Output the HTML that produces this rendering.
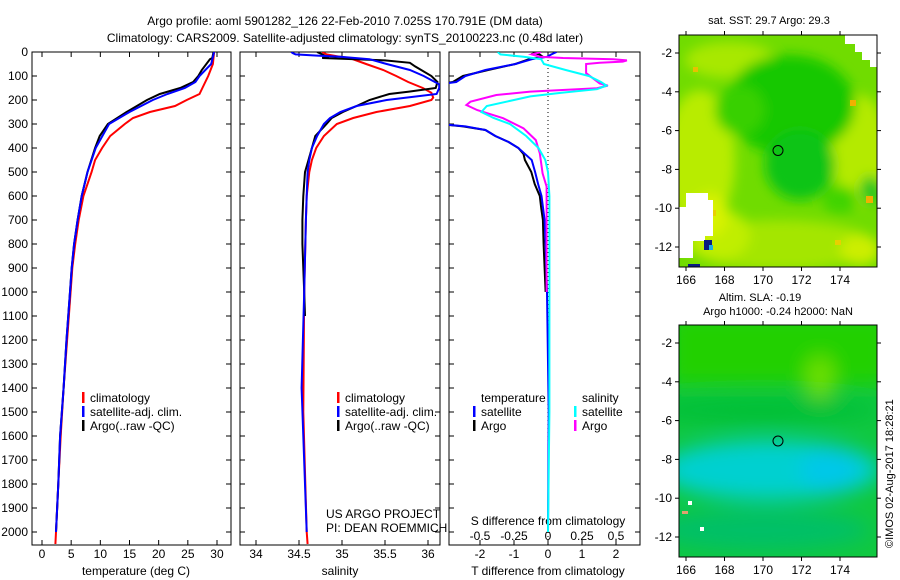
<!DOCTYPE html>
<html><head><meta charset="utf-8">
<style>
html,body{margin:0;padding:0;background:#fff;}
svg{display:block;font-family:"Liberation Sans",sans-serif;font-size:12px;}
</style></head>
<body>
<svg id="fig" width="900" height="580" viewBox="0 0 900 580">
<defs>
<filter id="blur6" x="-50%" y="-50%" width="200%" height="200%"><feGaussianBlur stdDeviation="6"/></filter>
<filter id="blur10" x="-50%" y="-50%" width="200%" height="200%"><feGaussianBlur stdDeviation="10"/></filter>
<clipPath id="cp1"><rect x="32" y="52" width="199" height="493"/></clipPath>
<clipPath id="cp2"><rect x="240" y="52" width="200" height="493"/></clipPath>
<clipPath id="cp3"><rect x="449" y="52" width="191" height="493"/></clipPath>
<clipPath id="cm1"><rect x="679" y="35" width="198" height="232"/></clipPath>
<clipPath id="cm2"><rect x="679" y="325" width="198" height="232"/></clipPath>
</defs>
<text x="345" y="25" text-anchor="middle">Argo profile: aoml 5901282_126 22-Feb-2010 7.025S 170.791E (DM data)</text>
<text x="345" y="42" text-anchor="middle">Climatology: CARS2009. Satellite-adjusted climatology: synTS_20100223.nc (0.48d later)</text>

<!-- Map 1 : SST -->
<g clip-path="url(#cm1)">
<rect x="679" y="35" width="198" height="232" fill="#70dc00"/>
<g filter="url(#blur6)">
<ellipse cx="700" cy="160" rx="35" ry="70" fill="#b8ec00"/>
<ellipse cx="730" cy="60" rx="45" ry="18" fill="#a8e800"/>
<ellipse cx="860" cy="150" rx="28" ry="55" fill="#b4ea00"/>
<ellipse cx="780" cy="245" rx="95" ry="25" fill="#a4e600"/>
<ellipse cx="720" cy="235" rx="30" ry="25" fill="#c0ee00"/>
<ellipse cx="790" cy="105" rx="65" ry="50" fill="#18c800"/>
<ellipse cx="800" cy="165" rx="35" ry="35" fill="#10c418"/>
<ellipse cx="740" cy="110" rx="25" ry="25" fill="#38d000"/>
<ellipse cx="710" cy="215" rx="18" ry="22" fill="#d8f200"/>
<ellipse cx="860" cy="250" rx="20" ry="15" fill="#ccee00"/>
<ellipse cx="870" cy="190" rx="10" ry="14" fill="#18c420"/>
<ellipse cx="840" cy="200" rx="18" ry="14" fill="#40d400"/>
</g>
<rect x="850" y="100" width="6" height="6" fill="#f0b000"/>
<rect x="866" y="196" width="7" height="7" fill="#f0b000"/>
<rect x="693" y="67" width="5" height="5" fill="#e8c000"/>
<rect x="710" y="210" width="6" height="6" fill="#e8d000"/>
<rect x="835" y="240" width="6" height="5" fill="#e8d000"/>
<polygon points="845,35 877,35 877,67 870,67 870,60 862,60 862,52 855,52 855,44 845,44" fill="#fff"/>
<polygon points="686,193 708,193 708,200 713,200 713,236 705,236 705,241 693,241 693,258 679,258 679,207 686,207" fill="#fff"/>
<rect x="704" y="240" width="8" height="10" fill="#0a1a80"/>
<rect x="709" y="245" width="4" height="5" fill="#20b0e0"/>
<rect x="688" y="264" width="12" height="3" fill="#0a1a80"/>
<circle cx="778" cy="150.5" r="5" fill="none" stroke="#000" stroke-width="1"/>
</g>
<rect x="679" y="35" width="198" height="232" fill="none" stroke="#000"/>
<text x="769" y="24" text-anchor="middle" font-size="11">sat. SST: 29.7 Argo: 29.3</text>

<!-- Map 2 : SLA -->
<g clip-path="url(#cm2)">
<rect x="679" y="325" width="198" height="232" fill="#10c840"/>
<g filter="url(#blur10)">
<rect x="670" y="315" width="220" height="70" fill="#20d000"/>
<ellipse cx="820" cy="378" rx="14" ry="22" fill="#70e000"/>
<ellipse cx="760" cy="410" rx="120" ry="14" fill="#00c038"/>
<ellipse cx="770" cy="470" rx="110" ry="30" fill="#00d0d0"/>
<ellipse cx="830" cy="470" rx="30" ry="24" fill="#00c8e8"/>
<ellipse cx="760" cy="530" rx="110" ry="20" fill="#00c068"/>
</g>
<circle cx="778" cy="441" r="5" fill="none" stroke="#000" stroke-width="1"/>
<rect x="688" y="501" width="4" height="4" fill="#fff"/>
<rect x="682" y="511" width="6" height="3" fill="#e0a070"/>
<rect x="700" y="527" width="4" height="4" fill="#fff"/>
</g>
<rect x="679" y="325" width="198" height="232" fill="none" stroke="#000"/>
<text x="760" y="301" text-anchor="middle" font-size="11">Altim. SLA: -0.19</text>
<text x="778" y="315" text-anchor="middle" font-size="11">Argo h1000: -0.24 h2000: NaN</text>
<text transform="translate(893,548) rotate(-90)" font-size="11">©IMOS 02-Aug-2017 18:28:21</text>

<g id="plots"></g>
</svg>
<script>
// ---------- data ----------
const depthTicks = [0,100,200,300,400,500,600,700,800,900,1000,1100,1200,1300,1400,1500,1600,1700,1800,1900,2000];
const tempTicks = [0,5,10,15,20,25,30];
const salTicks = [34,34.5,35,35.5,36];
const tdiffTicks = [-2,-1,0,1,2];
const sdiffTicks = [-0.5,-0.25,0,0.25,0.5];
const sdiffTickLabels = ["-0.5","-0.25","0","0.25","0.5"];
const lonTicks = [166,168,170,172,174];
const latTicks = [-2,-4,-6,-8,-10,-12];

const tDepthClim = [0,50,100,150,175,200,225,250,275,300,350,400,450,500,600,700,800,900,1000,1200,1400,1600,1800,2000,2050];
const tempClim   = [29.5,29.3,28.5,27.5,27,24.8,22.8,18.5,15.6,14.2,11.7,10.3,9.1,8.5,7.1,6.3,5.7,5.2,4.9,4.3,3.7,3.2,2.8,2.4,2.3];
const tDepthSat  = [0,50,100,125,150,175,200,250,300,400,500,600,700,800,900,1000,1200,1400,1600,1800,2000];
const tempSat    = [29.5,29.0,27.0,26.3,24.5,21.5,19,15,11.5,9.2,7.8,6.8,6.1,5.5,5.1,4.8,4.2,3.7,3.1,2.8,2.4];
const tDepthArgo = [0,25,30,75,100,125,150,175,200,250,300,350,400,500,600,700,800,900,1000,1200,1400,1600,1800,2000];
const tempArgo   = [29.4,29.2,28.8,27.4,26.8,25.9,23.7,20.2,18,14.5,11.3,9.9,9.1,7.8,6.8,6.1,5.5,5.1,4.8,4.2,3.7,3.1,2.8,2.4];

const sDepthClim = [0,10,20,25,50,75,100,125,150,170,190,200,225,250,275,300,350,400,450,500,600,700,1000,1500,2000,2050];
const salClim    = [34.77,34.82,34.98,35.09,35.28,35.48,35.63,35.77,35.94,36.04,36.06,36.04,35.79,35.40,35.13,34.94,34.79,34.70,34.65,34.62,34.59,34.58,34.56,34.55,34.59,34.6];
const sDepthSat  = [0,5,10,15,20,30,50,75,100,125,135,150,175,185,200,225,250,275,300,350,400,450,500,600,700,1000,1400,2000];
const salSat     = [34.41,34.43,34.46,34.71,34.98,35.32,35.52,35.79,35.95,36.08,36.13,36.13,36.1,35.87,35.52,35.17,34.98,34.86,34.79,34.71,34.65,34.62,34.6,34.59,34.58,34.56,34.53,34.59];
const sDepthArgo = [0,10,20,25,35,45,60,100,125,150,165,175,200,225,250,275,300,350,400,450,500,600,700,800,900,1000,1100];
const salArgo    = [34.71,34.77,34.82,34.77,35.5,35.79,35.85,36.04,36.11,36.09,35.78,35.55,35.32,35.17,35.01,34.88,34.82,34.69,34.65,34.61,34.57,34.55,34.54,34.54,34.55,34.56,34.57];

const dDepthTSat = [0,10,20,30,50,75,100,125,135,300,310,325,350,375,400,450,500,550,600,700,800,900,1000,1500,2000];
const tdiffSat   = [0.25,0.1,-0.03,-0.47,-0.96,-1.84,-2.43,-2.7,-3.2,-3.2,-2.43,-1.84,-1.55,-1.16,-0.87,-0.48,-0.38,-0.29,-0.19,-0.1,-0.07,-0.05,-0.03,0.02,0.0];
const dDepthTArgo= [0,5,10,20,30,50,75,100,125,135,300,310,325,350,375,400,425,450,500,550,600,650,700,800,900,1000];
const tdiffArgo  = [-0.3,-0.4,-0.25,-0.15,-0.56,-0.96,-1.76,-2.5,-2.8,-3.2,-3.2,-2.5,-1.84,-1.55,-1.16,-0.87,-0.72,-0.68,-0.49,-0.39,-0.24,-0.2,-0.15,-0.13,-0.1,-0.07];
const dDepthSSat = [0,10,20,30,50,75,100,125,140,155,170,185,200,225,250,275,300,350,400,450,500,600,1000,1500,2000];
const sdiffSat   = [-0.37,-0.35,-0.18,-0.05,-0.03,0.13,0.3,0.39,0.43,0.36,0.1,-0.13,-0.25,-0.45,-0.49,-0.4,-0.28,-0.16,-0.07,-0.02,0,0.01,0.01,0.01,0.0];
const dDepthSArgo= [0,10,20,25,30,35,40,45,50,88,131,140,151,165,179,207,221,242,276,318,367,422,506,561,700,1000];
const sdiffArgo  = [-0.05,-0.12,-0.06,0.11,0.48,0.58,0.55,0.38,0.28,0.28,0.38,0.44,0.36,-0.13,-0.38,-0.57,-0.6,-0.52,-0.33,-0.18,-0.09,-0.06,-0.04,-0.01,-0.01,-0.01];

// ---------- scales ----------
const yD = d => 52 + d*0.24;
const xT = t => 42 + t*5.833;
const xS = s => 256 + (s-34)*86;
const xTd = v => 548 + v*34;
const xSd = v => 548 + v*136;
const xLon = l => 686 + (l-166)*19.25;
const yLat1 = l => 53 + (-2-l)*19.4;
const yLat2 = l => 343 + (-2-l)*19.4;

const NS = "http://www.w3.org/2000/svg";
const root = document.getElementById('plots');
function mk(tag, attrs, parent){ const e=document.createElementNS(NS,tag); for(const k in attrs) e.setAttribute(k,attrs[k]); (parent||root).appendChild(e); return e; }
function txt(x,y,s,anchor,parent,size){ const e=mk('text',{x:x,y:y,'text-anchor':anchor||'middle'},parent); if(size) e.setAttribute('font-size',size); e.textContent=s; return e; }
function line(xs, ds, xf, color, clip, name){
  const pts = xs.map((v,i)=>xf(v).toFixed(1)+','+yD(ds[i]).toFixed(1)).join(' ');
  const p = mk('polyline',{points:pts,fill:'none',stroke:color,'stroke-width':2,'clip-path':'url(#'+clip+')'});
  
  
}

const panels = [[32,231,'cp1'],[240,440,'cp2'],[449,640,'cp3']];
panels.forEach((p,pi)=>{
  const fr = mk('rect',{x:p[0],y:52,width:p[1]-p[0],height:493,fill:'none',stroke:'#000'});
  
  
  depthTicks.forEach(d=>{
    mk('line',{x1:p[0],x2:p[0]+5,y1:yD(d),y2:yD(d),stroke:'#000'});
    mk('line',{x1:p[1]-5,x2:p[1],y1:yD(d),y2:yD(d),stroke:'#000'});
  });
});
depthTicks.forEach(d=>{
  const t = txt(28,yD(d)+4,String(d),'end');
  
  
});
function xticks(ticks, xf, labels, ylab, name){
  ticks.forEach((v,i)=>{
    const x=xf(v);
    mk('line',{x1:x,x2:x,y1:52,y2:57,stroke:'#000'});
    mk('line',{x1:x,x2:x,y1:540,y2:545,stroke:'#000'});
    const t = txt(x,ylab,labels?labels[i]:String(v));
    
    
  });
}
xticks(tempTicks,xT,null,558,'temperature-tick-label');
xticks(salTicks,xS,null,558,'salinity-tick-label');
xticks(tdiffTicks,xTd,null,558,'tdiff-tick-label');
sdiffTicks.forEach((v,i)=>{
  const t = txt(xSd(v),540,sdiffTickLabels[i]);
  
  
});
[[136,'temperature (deg C)','temperature-axis-title'],[340,'salinity','salinity-axis-title'],[548,'T difference from climatology','tdiff-axis-title']].forEach(a=>{
  const t = txt(a[0],575,a[1]);
  
  
});
const st = txt(548,525,'S difference from climatology');



// zero line
const zl = mk('line',{x1:xTd(0),x2:xTd(0),y1:52,y2:545,stroke:'#000','stroke-dasharray':'1,3'});



// series
line(tempClim,tDepthClim,xT,'#ff0000','cp1','temperature-climatology-line');
line(tempArgo,tDepthArgo,xT,'#000000','cp1','temperature-argo-line');
line(tempSat,tDepthSat,xT,'#0000ff','cp1','temperature-satellite-line');
line(salClim,sDepthClim,xS,'#ff0000','cp2','salinity-climatology-line');
line(salArgo,sDepthArgo,xS,'#000000','cp2','salinity-argo-line');
line(salSat,sDepthSat,xS,'#0000ff','cp2','salinity-satellite-line');
line(tdiffArgo,dDepthTArgo,xTd,'#000000','cp3','tdiff-argo-line');
line(tdiffSat,dDepthTSat,xTd,'#0000ff','cp3','tdiff-satellite-line');
line(sdiffArgo,dDepthSArgo,xSd,'#ff00ff','cp3','sdiff-argo-line');
line(sdiffSat,dDepthSSat,xSd,'#00ffff','cp3','sdiff-satellite-line');

// legends
function leg(x,y,color,label,name){
  const g = mk('g',{});
  
  
  mk('rect',{x:x,y:y-10,width:2.5,height:11,fill:color},g);
  txt(x+8,y,label,'start',g);
}
leg(82,402,'#ff0000','climatology','legend-entry-climatology');
leg(82,416,'#0000ff','satellite-adj. clim.','legend-entry-satellite');
leg(82,430,'#000000','Argo(..raw -QC)','legend-entry-argo');
leg(337,402,'#ff0000','climatology','legend-entry-climatology');
leg(337,416,'#0000ff','satellite-adj. clim.','legend-entry-satellite');
leg(337,430,'#000000','Argo(..raw -QC)','legend-entry-argo');
const lt = txt(481,402,'temperature','start');  
const ls = txt(582,402,'salinity','start');  
leg(473,416,'#0000ff','satellite','legend-entry-tdiff-satellite');
leg(473,430,'#000000','Argo','legend-entry-tdiff-argo');
leg(574,416,'#00ffff','satellite','legend-entry-sdiff-satellite');
leg(574,430,'#ff00ff','Argo','legend-entry-sdiff-argo');
const c1 = txt(326,518,'US ARGO PROJECT','start');  
const c2 = txt(326,532,'PI: DEAN ROEMMICH','start');  

// map axes
function mapAxes(top,bottom,yl,suffix){
  lonTicks.forEach(l=>{
    const x=xLon(l);
    mk('line',{x1:x,x2:x,y1:top-4,y2:top,stroke:'#000'});
    mk('line',{x1:x,x2:x,y1:bottom,y2:bottom+4,stroke:'#000'});
    const t = txt(x,bottom+17,String(l));
    
    
  });
  latTicks.forEach(l=>{
    const y=yl(l);
    mk('line',{x1:675,x2:679,y1:y,y2:y,stroke:'#000'});
    mk('line',{x1:877,x2:881,y1:y,y2:y,stroke:'#000'});
    const t = txt(672,y+4,String(l),'end');
    
    
  });
}
mapAxes(35,267,yLat1,'sst');
mapAxes(325,557,yLat2,'sla');
</script>
</body></html>
